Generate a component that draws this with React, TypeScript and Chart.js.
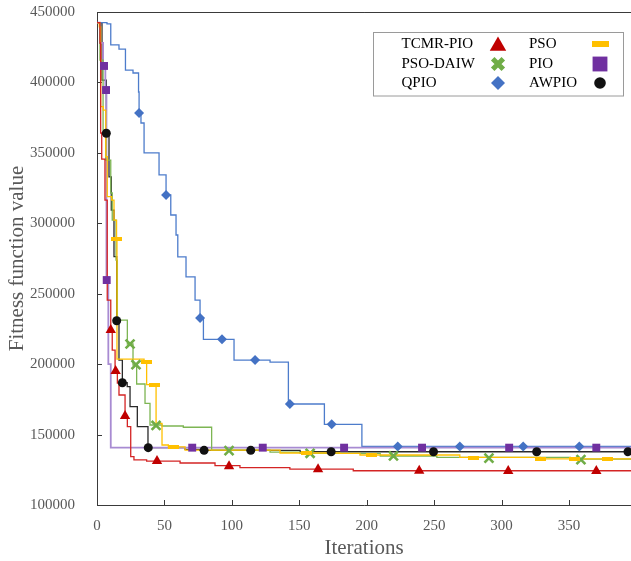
import React, { useEffect, useRef } from 'react';
import { Chart, registerables } from 'chart.js';
import { drawPoint } from 'chart.js/helpers';

Chart.register(...registerables);

// ---------- data ----------
const X_MIN = 0;
const X_MAX = 396;
const X_STEP = 50;
const Y_MIN = 100000;
const Y_MAX = 450000;
const Y_STEP = 50000;

const X_TITLE = 'Iterations';
const Y_TITLE = 'Fitness function value';

// TCMR-PIO
const TCMR_ITER = [0, 2.2, 2.7, 3.5, 5.9, 7.6, 10.2, 11.3, 13.4, 15.1, 16.3, 20.8, 22.5, 25, 27.4, 36.8, 61.6, 87.5, 106, 143, 190, 396];
const TCMR_VAL = [442400, 428000, 364100, 345600, 316500, 245500, 224200, 210000, 195100, 186600, 178100, 162700, 155600, 134300, 132100, 131200, 129800, 128000, 126600, 125500, 124300, 124100];
const TCMR_MARK_ITER = [10.2, 13.8, 20.8, 44.5, 97.9, 163.9, 238.9, 304.9, 370.2];
const TCMR_MARK_VAL = [224200, 195100, 163200, 131200, 127500, 125400, 124300, 124200, 124100];

// PSO
const PSO_ITER = [0, 1.7, 2.7, 4.7, 6.5, 7.6, 10.9, 12.6, 14.5, 14.8, 34.9, 36.8, 43.8, 48.2, 52.9, 65.3, 135.7, 180, 195, 269, 328.6, 396];
const PSO_VAL = [442400, 439400, 382800, 380400, 347300, 318900, 316500, 302300, 288800, 203600, 201300, 185400, 158000, 142600, 141200, 139000, 136900, 136600, 135500, 133800, 132800, 132600];
const PSO_MARK_ITER = [14.5, 36.5, 43, 56.6, 155.5, 203.2, 279.1, 329.1, 353.8, 378.5];
const PSO_MARK_VAL = [288800, 201300, 185400, 141200, 136800, 135500, 133600, 132800, 132700, 132600];

// PSO-DAIW
const DAIW_ITER = [0, 2.2, 4.5, 6.5, 10.2, 11.3, 14.1, 15.1, 22.5, 26.7, 29.4, 35.6, 39.3, 48.2, 64, 85, 128.3, 150.6, 210, 252, 351, 396];
const DAIW_VAL = [442400, 415900, 366200, 344900, 321500, 302300, 273900, 231300, 214300, 199400, 185900, 172200, 156800, 156100, 155200, 139000, 137600, 136700, 134800, 133800, 132600, 132300];
const DAIW_MARK_ITER = [24.5, 28.9, 43.8, 97.9, 158, 219.8, 290.6, 358.8];
const DAIW_MARK_VAL = [214300, 199600, 156500, 138600, 136700, 134800, 133300, 132200];

// PIO
const PIO_ITER = [0, 2.2, 4.5, 6.2, 7.0, 8.4, 10.2, 396];
const PIO_VAL = [442400, 428000, 412000, 394600, 259700, 200000, 140700, 140700];
const PIO_MARK_ITER = [5.2, 6.7, 7.2, 70.6, 122.9, 183.2, 241, 305.6, 370.2];
const PIO_MARK_VAL = [411700, 394600, 259700, 140700, 140700, 140700, 140700, 140700, 140700];

// QPIO
const QPIO_ITER = [0, 7.4, 10.2, 16.3, 21.1, 26.7, 30.8, 31.2, 32.6, 34.9, 46, 51.2, 54.7, 58.6, 59.9, 66, 72.7, 76.4, 78.9, 101.6, 128.3, 141.9, 168.6, 196.4, 396];
const QPIO_VAL = [442400, 441500, 426600, 423700, 408800, 406700, 393200, 378300, 371200, 350000, 334300, 320100, 305900, 291700, 276100, 261900, 245500, 232700, 217600, 202900, 201500, 171700, 157300, 141600, 141600];
const QPIO_MARK_ITER = [31.2, 51.2, 76.4, 92.7, 117.2, 143, 174, 223, 269, 316, 357.6];
const QPIO_MARK_VAL = [378300, 320100, 232700, 217600, 202900, 171700, 157300, 141600, 141600, 141600, 141600];

// AWPIO
const AW_ITER = [0, 3.7, 6.9, 8.9, 10.6, 12.6, 14.6, 16.3, 18.8, 22.4, 24.5, 29.9, 37.8, 65.3, 76.4, 150.6, 396];
const AW_VAL = [442400, 401700, 363900, 332900, 309400, 276300, 230800, 202900, 186800, 184000, 169800, 155600, 140700, 139500, 138800, 137800, 137800];
const AW_MARK_ITER = [6.9, 14.6, 18.8, 38, 79.4, 114, 173.6, 249.5, 326, 393.7];
const AW_MARK_VAL = [363900, 230800, 186800, 140700, 138800, 138800, 137800, 137800, 137800, 137800];

const SERIES_NAMES = ['TCMR-PIO', 'PSO', 'PSO-DAIW', 'PIO', 'QPIO', 'AWPIO'];
const SERIES_ITER = [TCMR_ITER, PSO_ITER, DAIW_ITER, PIO_ITER, QPIO_ITER, AW_ITER];
const SERIES_VAL = [TCMR_VAL, PSO_VAL, DAIW_VAL, PIO_VAL, QPIO_VAL, AW_VAL];
const MARK_ITER = [TCMR_MARK_ITER, PSO_MARK_ITER, DAIW_MARK_ITER, PIO_MARK_ITER, QPIO_MARK_ITER, AW_MARK_ITER];
const MARK_VAL = [TCMR_MARK_VAL, PSO_MARK_VAL, DAIW_MARK_VAL, PIO_MARK_VAL, QPIO_MARK_VAL, AW_MARK_VAL];

// ---------- styles ----------
const FONT = "'Liberation Serif', 'Times New Roman', serif";
const LINE_COLORS = ['#D42424', '#FFC000', '#7DB553', '#A88BD2', '#4D7CCB', '#2A2A2A'];
const LINE_WIDTHS = [1.3, 1.3, 1.3, 1.8, 1.3, 1.3];
const MARK_COLORS = ['#C00000', '#FFC000', '#70AD47', '#7030A0', '#4472C4', '#111111'];

function makeDash(w: number, h: number, color: string) {
  const c = document.createElement('canvas');
  c.width = w;
  c.height = h;
  const g = c.getContext('2d')!;
  g.fillStyle = color;
  g.fillRect(0, 0, w, h);
  return c;
}

const pts = (xs: number[], ys: number[]) => xs.map((x, i) => ({ x, y: ys[i] }));

export default function App() {
  const ref = useRef<HTMLCanvasElement | null>(null);

  useEffect(() => {
    if (!ref.current) return;
    const dashSmall = makeDash(11, 4, MARK_COLORS[1]);
    const dashLegend = makeDash(17, 6, MARK_COLORS[1]);

    const plotMarkers: any[] = [
      { pointStyle: 'triangle', radius: 6, borderWidth: 0 },
      { pointStyle: dashSmall, radius: 5, borderWidth: 0 },
      { pointStyle: 'crossRot', radius: 6.3, borderWidth: 2.6 },
      { pointStyle: 'rect', radius: 5.6, borderWidth: 0 },
      { pointStyle: 'rectRot', radius: 5, borderWidth: 0 },
      { pointStyle: 'circle', radius: 4.5, borderWidth: 0 },
    ];
    const legendMarkers: any[] = [
      { pointStyle: 'triangle', radius: 9.5, borderWidth: 0 },
      { pointStyle: dashLegend, radius: 8, borderWidth: 0 },
      { pointStyle: 'crossRot', radius: 7.5, borderWidth: 5 },
      { pointStyle: 'rect', radius: 10.5, borderWidth: 0 },
      { pointStyle: 'rectRot', radius: 7, borderWidth: 0 },
      { pointStyle: 'circle', radius: 5.8, borderWidth: 0 },
    ];

    const lineSets = SERIES_NAMES.map((name, i) => ({
      label: name + ' line',
      data: pts(SERIES_ITER[i], SERIES_VAL[i]),
      showLine: true,
      stepped: 'before',
      borderColor: LINE_COLORS[i],
      borderWidth: LINE_WIDTHS[i],
      pointRadius: 0,
      fill: false,
      order: 2,
    }));
    const markSets = SERIES_NAMES.map((name, i) => ({
      label: name,
      data: pts(MARK_ITER[i], MARK_VAL[i]),
      showLine: false,
      pointStyle: plotMarkers[i].pointStyle,
      pointRadius: plotMarkers[i].radius,
      pointBorderWidth: plotMarkers[i].borderWidth,
      pointBackgroundColor: MARK_COLORS[i],
      pointBorderColor: MARK_COLORS[i],
      order: 1,
    }));

    const frame = {
      id: 'frame',
      beforeDatasetsDraw(chart: any) {
        const { ctx, chartArea, scales } = chart;
        const { left, top, right, bottom } = chartArea;
        ctx.save();
        ctx.strokeStyle = '#3a3a3a';
        ctx.lineWidth = 1;
        ctx.beginPath();
        ctx.moveTo(left + 0.5, top);
        ctx.lineTo(left + 0.5, bottom + 0.5);
        ctx.lineTo(right, bottom + 0.5);
        ctx.moveTo(left, top + 0.5);
        ctx.lineTo(right, top + 0.5);
        for (const t of scales.x.ticks) {
          const px = Math.round(scales.x.getPixelForValue(t.value)) + 0.5;
          ctx.moveTo(px, bottom);
          ctx.lineTo(px, bottom - 5);
        }
        for (const t of scales.y.ticks) {
          const py = Math.round(scales.y.getPixelForValue(t.value)) + 0.5;
          ctx.moveTo(left, py);
          ctx.lineTo(left + 5, py);
        }
        ctx.stroke();
        ctx.restore();
      },
    };

    const legend = {
      id: 'boxLegend',
      afterDraw(chart: any) {
        const ctx = chart.ctx;
        ctx.save();
        ctx.fillStyle = '#ffffff';
        ctx.fillRect(373.5, 32.5, 250, 63.5);
        ctx.strokeStyle = '#9a9a9a';
        ctx.lineWidth = 1;
        ctx.strokeRect(373.5, 32.5, 250, 63.5);
        const rows = [44, 64, 83];
        const textX = [401.5, 529];
        const markX = [498, 600];
        ctx.font = '15px ' + FONT;
        ctx.textBaseline = 'middle';
        ctx.textAlign = 'left';
        SERIES_NAMES.forEach((name, i) => {
          const col = i % 2;
          const row = Math.floor(i / 2);
          ctx.fillStyle = '#000000';
          ctx.fillText(name, textX[col], rows[row]);
          const m = legendMarkers[i];
          ctx.fillStyle = MARK_COLORS[i];
          ctx.strokeStyle = MARK_COLORS[i];
          ctx.lineWidth = m.borderWidth;
          drawPoint(ctx, { pointStyle: m.pointStyle, radius: m.radius, rotation: 0, borderWidth: m.borderWidth } as any, markX[col], rows[row] + (m.pointStyle === 'triangle' ? 2 : 0));
        });
        ctx.restore();
      },
    };

    const chart = new Chart(ref.current, {
      type: 'scatter',
      data: { datasets: [...markSets, ...lineSets] as any },
      options: {
        animation: false,
        responsive: false,
        events: [],
        devicePixelRatio: 1,
        layout: { padding: { top: 12, left: 0, right: 0, bottom: 0 } },
        plugins: { legend: { display: false }, tooltip: { enabled: false } },
        scales: {
          x: {
            type: 'linear',
            min: X_MIN,
            max: X_MAX,
            grid: { display: false },
            border: { display: false },
            ticks: {
              stepSize: X_STEP,
              includeBounds: false,
              padding: 4,
              color: '#595959',
              font: { family: FONT, size: 15 },
              maxRotation: 0,
            },
            title: {
              display: true,
              text: X_TITLE,
              color: '#595959',
              font: { family: FONT, size: 21 },
              padding: { top: 0, bottom: 0 },
            },
            afterFit(s: any) {
              s.height = 56;
              s.paddingLeft = 0;
              s.paddingRight = 0;
            },
          },
          y: {
            type: 'linear',
            min: Y_MIN,
            max: Y_MAX,
            grid: { display: false },
            border: { display: false },
            ticks: {
              stepSize: Y_STEP,
              padding: 14,
              color: '#595959',
              font: { family: FONT, size: 15 },
              callback: (v: any) => String(v),
            },
            title: {
              display: true,
              text: Y_TITLE,
              color: '#595959',
              font: { family: FONT, size: 21 },
              padding: { top: 5, bottom: 0 },
            },
            afterFit(s: any) {
              s.width = 97;
              s.paddingTop = 0;
              s.paddingBottom = 0;
            },
          },
        },
      } as any,
      plugins: [frame, legend],
    });
    return () => chart.destroy();
  }, []);

  return (
    <div style={{ position: 'fixed', left: 0, top: 0, width: 631, height: 561, overflow: 'hidden', background: '#fff' }}>
      <canvas ref={ref} width={640} height={561} style={{ display: 'block', width: 640, height: 561 }} />
    </div>
  );
}
